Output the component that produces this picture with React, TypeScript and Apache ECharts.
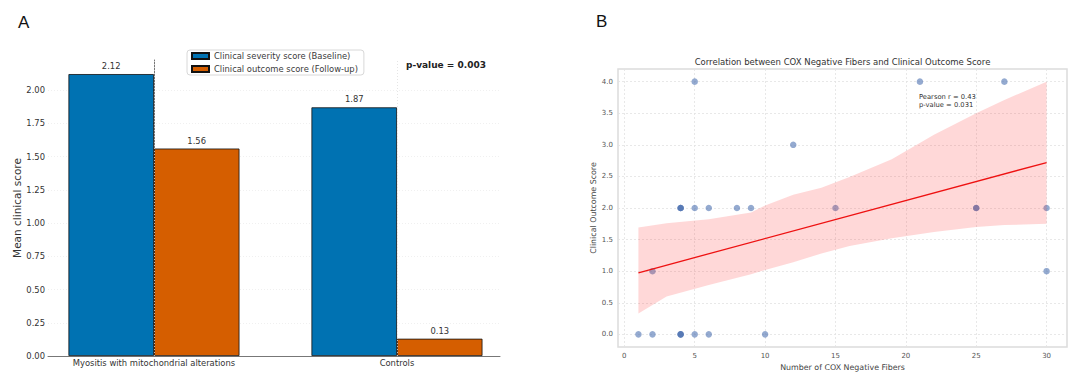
import React, { useEffect, useRef } from "react";
import * as echarts from "echarts";

// ---- Panel A data ----
const groups = ["Myositis with mitochondrial alterations", "Controls"];
const groupPos = [0, 1];
const baselineScores = [2.12, 1.87];
const followupScores = [1.56, 0.13];
const barYTicks = [0, 0.25, 0.5, 0.75, 1.0, 1.25, 1.5, 1.75, 2.0];
const seriesNames = ["Clinical severity score (Baseline)", "Clinical outcome score (Follow-up)"];

// ---- Panel B data ----
const coxFibers = [5, 21, 27, 12, 4, 4, 4, 5, 6, 8, 9, 15, 25, 25, 30, 2, 30, 1, 2, 4, 4, 4, 5, 6, 10];
const outcomeScores = [4, 4, 4, 3, 2, 2, 2, 2, 2, 2, 2, 2, 2, 2, 2, 1, 1, 0, 0, 0, 0, 0, 0, 0, 0];
const fitX = [1, 30];
const fitY = [0.975, 2.72];
const bandX = [1, 3, 6, 9, 10, 12, 14, 16, 19, 22, 25, 27, 30];
const bandUpper = [1.69, 1.76, 1.82, 1.93, 2.04, 2.21, 2.32, 2.49, 2.77, 3.16, 3.5, 3.71, 4.0];
const bandLower = [0.33, 0.6, 0.78, 0.95, 1.02, 1.14, 1.28, 1.4, 1.52, 1.62, 1.7, 1.73, 1.75];
const scatterXTicks = [0, 5, 10, 15, 20, 25, 30];
const scatterYTicks = [0, 0.5, 1.0, 1.5, 2.0, 2.5, 3.0, 3.5, 4.0];

const FONT = "DejaVu Sans";

export default function App() {
  const ref = useRef<HTMLDivElement>(null);

  useEffect(() => {
    if (!ref.current) return;
    const chart = echarts.init(ref.current, undefined, { renderer: "svg" });

    const option: any = {
      animation: false,
      backgroundColor: "#ffffff",
      textStyle: { fontFamily: FONT },
      grid: [
        { left: 48, top: 60, right: 580, bottom: 27 },
        {
          left: 618,
          top: 69,
          right: 13,
          bottom: 36,
          show: true,
          borderColor: "#dcdcdc",
          borderWidth: 1.5,
          backgroundColor: "transparent",
        },
      ],
      legend: {
        orient: "vertical",
        left: 187,
        top: 50,
        itemWidth: 17,
        itemHeight: 6,
        itemGap: 5,
        padding: [2, 6, 2, 4],
        backgroundColor: "rgba(255,255,255,0.85)",
        borderColor: "#d8d8d8",
        borderWidth: 1,
        borderRadius: 3,
        icon: "rect",
        textStyle: { fontSize: 8.4, color: "#3a3a3a", fontFamily: FONT },
        data: seriesNames,
      },
      xAxis: [
        {
          type: "value",
          gridIndex: 0,
          min: -0.436,
          max: 1.424,
          axisLine: { show: true, lineStyle: { color: "#777", width: 1 } },
          axisTick: { show: false, customValues: groupPos },
          axisLabel: {
            customValues: groupPos,
            formatter: (v: number) => groups[Math.round(v)] ?? "",
            fontSize: 8.4,
            color: "#333",
            margin: 3,
            fontFamily: FONT,
          },
          splitLine: { show: false },
        },
        {
          type: "value",
          gridIndex: 1,
          min: -0.45,
          max: 31.45,
          name: "Number of COX Negative Fibers",
          nameLocation: "middle",
          nameGap: 13,
          nameTextStyle: { fontSize: 7.9, color: "#444", fontFamily: FONT },
          axisLine: { show: false },
          axisTick: { show: false, customValues: scatterXTicks },
          axisLabel: {
            customValues: scatterXTicks,
            fontSize: 7,
            color: "#555",
            margin: 5,
            fontFamily: FONT,
          },
          splitLine: { show: true, lineStyle: { color: "#e2e2e2", type: [2, 2], width: 0.8 } },
        },
      ],
      yAxis: [
        {
          type: "value",
          gridIndex: 0,
          min: 0,
          max: 2.226,
          name: "Mean clinical score",
          nameLocation: "middle",
          nameGap: 24,
          nameTextStyle: { fontSize: 10.5, color: "#333", fontFamily: FONT },
          axisLine: { show: true, lineStyle: { color: "#777", width: 1 } },
          axisTick: { show: true, length: 3, customValues: barYTicks, lineStyle: { color: "#777" } },
          axisLabel: {
            customValues: barYTicks,
            formatter: (v: number) => v.toFixed(2),
            fontSize: 8.4,
            color: "#333",
            margin: 3,
            fontFamily: FONT,
          },
          splitLine: { show: true, lineStyle: { color: "#ececec", type: [1, 2], width: 0.8 } },
        },
        {
          type: "value",
          gridIndex: 1,
          min: -0.2,
          max: 4.2,
          name: "Clinical Outcome Score",
          nameLocation: "middle",
          nameGap: 19,
          nameTextStyle: { fontSize: 7.9, color: "#444", fontFamily: FONT },
          axisLine: { show: false },
          axisTick: { show: false, customValues: scatterYTicks },
          axisLabel: {
            customValues: scatterYTicks,
            formatter: (v: number) => v.toFixed(1),
            fontSize: 7,
            color: "#555",
            margin: 5,
            fontFamily: FONT,
          },
          splitLine: { show: true, lineStyle: { color: "#e2e2e2", type: [2, 2], width: 0.8 } },
        },
      ],
      series: [
        {
          type: "line",
          xAxisIndex: 0,
          yAxisIndex: 0,
          z: 1,
          data: [],
          silent: true,
          markLine: {
            silent: true,
            symbol: "none",
            label: { show: false },
            lineStyle: { color: "#dedede", type: [1, 2], width: 0.8 },
            data: groupPos.map((p) => ({ xAxis: p })),
          },
        },
        {
          name: seriesNames[0],
          type: "bar",
          xAxisIndex: 0,
          yAxisIndex: 0,
          z: 2,
          barWidth: 85.5,
          barGap: "0%",
          data: groupPos.map((p, i) => [p, baselineScores[i]]),
          itemStyle: { color: "#0072B2", borderColor: "#111", borderWidth: 0.8 },
          label: {
            show: true,
            position: "top",
            distance: 4,
            formatter: (p: any) => p.value[1].toFixed(2),
            fontSize: 8.4,
            color: "#333",
            fontFamily: FONT,
          },
        },
        {
          name: seriesNames[1],
          type: "bar",
          xAxisIndex: 0,
          yAxisIndex: 0,
          z: 2,
          barWidth: 85.5,
          barGap: "0%",
          data: groupPos.map((p, i) => [p, followupScores[i]]),
          itemStyle: { color: "#D55E00", borderColor: "#111", borderWidth: 0.8 },
          label: {
            show: true,
            position: "top",
            distance: 4,
            formatter: (p: any) => p.value[1].toFixed(2),
            fontSize: 8.4,
            color: "#333",
            fontFamily: FONT,
          },
        },
        {
          type: "scatter",
          xAxisIndex: 1,
          yAxisIndex: 1,
          symbolSize: 6.5,
          z: 2,
          data: coxFibers.map((x, i) => [x, outcomeScores[i]]),
          itemStyle: { color: "#4C72B0", opacity: 0.6 },
        },
        {
          type: "custom",
          xAxisIndex: 1,
          yAxisIndex: 1,
          z: 3,
          silent: true,
          data: [[bandX[0], bandLower[0]]],
          renderItem: (_params: any, api: any) => {
            const upper = bandX.map((x, i) => api.coord([x, bandUpper[i]]));
            const lower = bandX.map((x, i) => api.coord([x, bandLower[i]])).reverse();
            return {
              type: "polygon",
              shape: { points: upper.concat(lower) },
              style: { fill: "rgba(255,60,60,0.2)", stroke: "none" },
            };
          },
        },
        {
          type: "line",
          xAxisIndex: 1,
          yAxisIndex: 1,
          z: 4,
          symbol: "none",
          data: fitX.map((x, i) => [x, fitY[i]]),
          lineStyle: { color: "#ee1111", width: 1.3 },
        },
      ],
      graphic: [
        {
          type: "text",
          left: 18,
          top: 14,
          style: { text: "A", fontSize: 17, fill: "#111", fontFamily: "Liberation Sans" },
        },
        {
          type: "text",
          left: 596,
          top: 13,
          style: { text: "B", fontSize: 17, fill: "#111", fontFamily: "Liberation Sans" },
        },
        {
          type: "text",
          x: 406,
          y: 65,
          style: {
            text: "p-value = 0.003",
            fontSize: 9,
            fontWeight: "bold",
            fill: "#222",
            fontFamily: FONT,
            textVerticalAlign: "middle",
          },
        },
        {
          type: "text",
          x: 842.5,
          y: 62,
          style: {
            text: "Correlation between COX Negative Fibers and Clinical Outcome Score",
            fontSize: 8.5,
            fill: "#333",
            fontFamily: FONT,
            textAlign: "center",
            textVerticalAlign: "middle",
          },
        },
        {
          type: "text",
          x: 919,
          y: 93,
          style: {
            text: "Pearson r = 0.43\np-value = 0.031",
            fontSize: 6.75,
            lineHeight: 8,
            fill: "#333",
            fontFamily: FONT,
          },
        },
      ],
    };

    chart.setOption(option);
    return () => chart.dispose();
  }, []);

  return (
    <div
      ref={ref}
      style={{ position: "fixed", left: 0, top: 0, width: 1080, height: 383, background: "#fff" }}
    />
  );
}
